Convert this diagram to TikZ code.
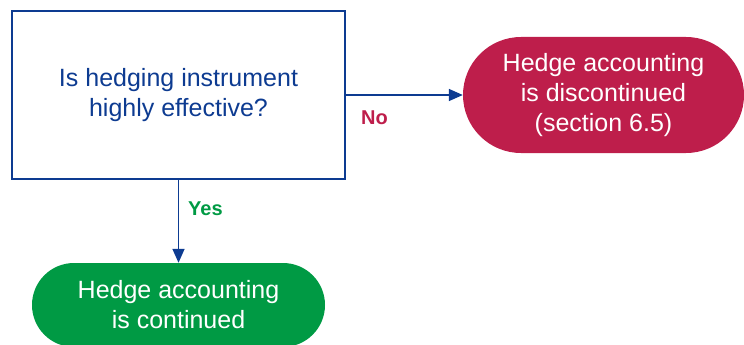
\documentclass[tikz,border=0pt]{standalone}
\usepackage{fontspec}
\setmainfont{Liberation Sans}
\usetikzlibrary{arrows.meta}
\definecolor{dblue}{RGB}{13,59,145}
\definecolor{cred}{RGB}{190,30,75}
\definecolor{cgreen}{RGB}{0,154,68}
\begin{document}
\begin{tikzpicture}[x=1pt,y=-1pt,
  txt/.style={font=\fontsize{25}{30}\selectfont, align=center, inner sep=0pt},
  question/.style={txt, draw=dblue, line width=1.6pt, text=dblue, minimum width=333pt, minimum height=168pt},
  pill/.style={txt, text=white, rounded corners=#1, minimum height=2*#1},
  conn/.style={draw=dblue, line width=1.5pt, -{Triangle[length=14pt,width=12pt]}},
  lbl/.style={font=\fontsize{20}{24}\selectfont\bfseries, inner sep=0pt}
]
\useasboundingbox (0,0) rectangle (744,345);
\node[question] (q) at (178.5,95) {Is hedging instrument\\highly effective?};
\node[pill=58pt, fill=cred, minimum width=281pt] (disc) at (603.5,95) {Hedge accounting\\is discontinued\\(section 6.5)};
\node[pill=42pt, fill=cgreen, minimum width=293pt] (cont) at (178.5,305) {Hedge accounting\\is continued};
\draw[conn] (q.east) -- (disc.west);
\draw[conn] (q.south) -- (cont.north);
\node[lbl, text=cred, anchor=base west] (no) at (361,124) {No};
\node[lbl, text=cgreen, anchor=base west] (yes) at (188,215) {Yes};
\end{tikzpicture}
\end{document}
